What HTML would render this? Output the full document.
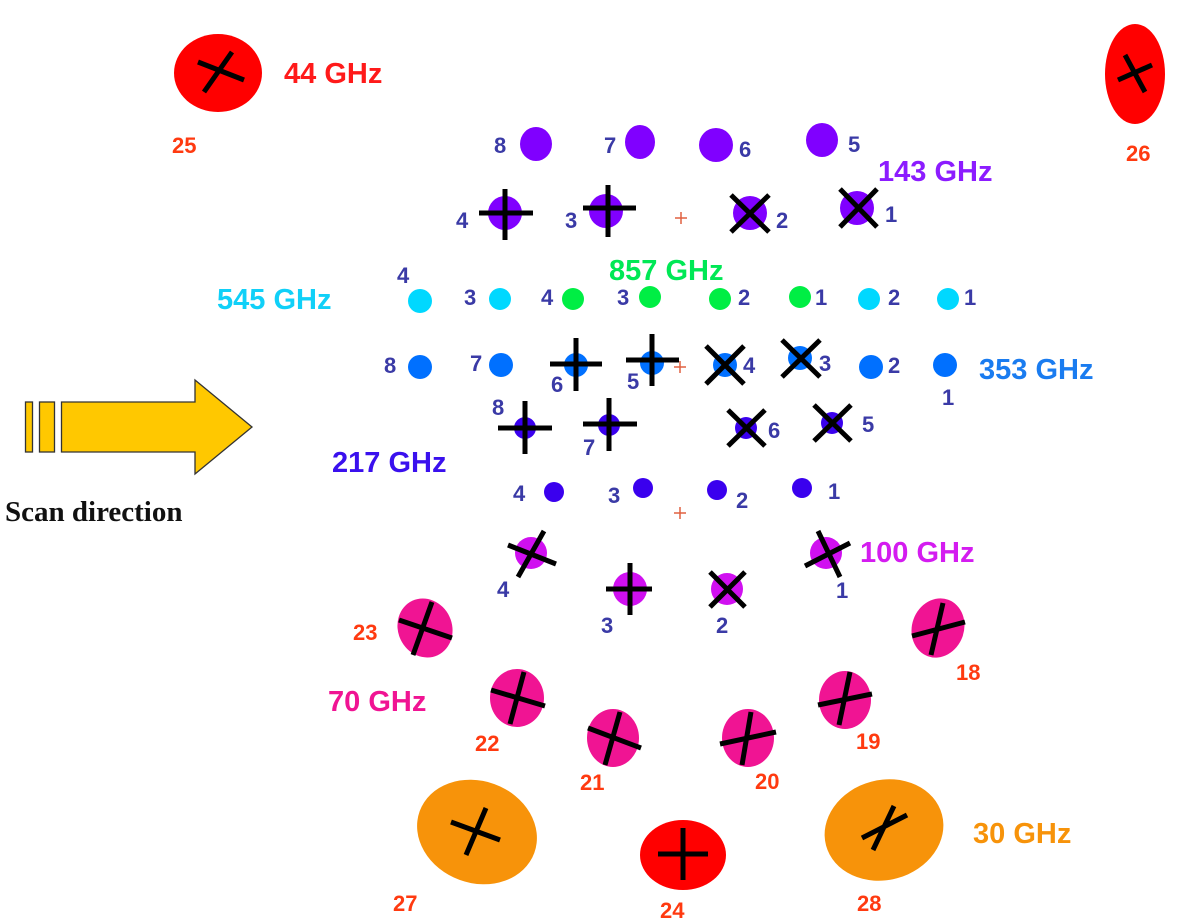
<!DOCTYPE html>
<html><head><meta charset="utf-8"><style>
html,body{margin:0;padding:0;background:#fff;}
svg{display:block}
text{font-family:"Liberation Sans",sans-serif;font-weight:bold;}
.n{fill:#3a3aa6;font-size:22px;}
.r{fill:#ff3a10;font-size:22px;}
.k path{stroke:#000;stroke-width:5;fill:none;}
</style></head><body>
<svg width="1200" height="923" viewBox="0 0 1200 923" xmlns="http://www.w3.org/2000/svg">
<rect width="1200" height="923" fill="#fff"/>
<ellipse cx="218" cy="73" rx="44" ry="39" fill="#ff0000"/>
<ellipse cx="1135" cy="74" rx="30" ry="50" fill="#ff0000"/>
<ellipse cx="477" cy="832" rx="61" ry="51" fill="#f7930a" transform="rotate(20 477 832)"/>
<ellipse cx="884" cy="830" rx="60" ry="50" fill="#f7930a" transform="rotate(-15 884 830)"/>
<ellipse cx="683" cy="855" rx="43" ry="35" fill="#ff0000"/>
<g fill="#f01493">
<ellipse cx="425" cy="628" rx="27" ry="30" transform="rotate(-25 425 628)"/>
<ellipse cx="517" cy="698" rx="27" ry="29"/>
<ellipse cx="613" cy="738" rx="26" ry="29"/>
<ellipse cx="748" cy="738" rx="26" ry="29"/>
<ellipse cx="845" cy="700" rx="26" ry="29"/>
<ellipse cx="938" cy="628" rx="26" ry="30" transform="rotate(20 938 628)"/>
</g>
<g fill="#d010f0">
<circle cx="531" cy="553" r="16"/><circle cx="630" cy="589" r="17"/><circle cx="727" cy="589" r="16"/><circle cx="826" cy="553" r="16"/>
</g>
<g fill="#8000ff">
<ellipse cx="536" cy="144" rx="16" ry="17"/><ellipse cx="640" cy="142" rx="15" ry="17"/><ellipse cx="716" cy="145" rx="17" ry="17"/><ellipse cx="822" cy="140" rx="16" ry="17"/>
<circle cx="505" cy="213" r="17"/><circle cx="606" cy="211" r="17"/><circle cx="750" cy="213" r="17"/><circle cx="857" cy="208" r="17"/>
</g>
<g fill="#00d8ff"><circle cx="420" cy="301" r="12"/><circle cx="500" cy="299" r="11"/><circle cx="869" cy="299" r="11"/><circle cx="948" cy="299" r="11"/></g>
<g fill="#00ee44"><circle cx="573" cy="299" r="11"/><circle cx="650" cy="297" r="11"/><circle cx="720" cy="299" r="11"/><circle cx="800" cy="297" r="11"/></g>
<g fill="#0070ff"><circle cx="420" cy="367" r="12"/><circle cx="501" cy="365" r="12"/><circle cx="576" cy="365" r="12"/><circle cx="652" cy="363" r="12"/><circle cx="725" cy="365" r="12"/><circle cx="800" cy="358" r="12"/><circle cx="871" cy="367" r="12"/><circle cx="945" cy="365" r="12"/></g>
<g fill="#3a00ee"><circle cx="525" cy="428" r="11"/><circle cx="609" cy="425" r="11"/><circle cx="746" cy="428" r="11"/><circle cx="832" cy="423" r="11"/>
<circle cx="554" cy="492" r="10"/><circle cx="643" cy="488" r="10"/><circle cx="717" cy="490" r="10"/><circle cx="802" cy="488" r="10"/></g>
<g class="k">
<path d="M204 92 L232 52 M198 62 L244 80"/>
<path d="M1125 55 L1145 92 M1118 80 L1152 65"/>
<path d="M466 855 L486 808 M451 822 L500 840"/>
<path d="M873 850 L894 806 M862 838 L907 815"/>
<path d="M683 828 V880 M658 854 H708"/>
<path d="M413 655 L432 602 M399 620 L452 638"/>
<path d="M510 724 L524 672 M491 690 L545 706"/>
<path d="M605 765 L620 712 M588 728 L641 748"/>
<path d="M742 765 L751 712 M720 744 L776 732"/>
<path d="M839 725 L850 672 M818 705 L872 694"/>
<path d="M931 655 L943 603 M912 636 L965 622"/>
<path d="M518 577 L544 531 M508 545 L556 564"/>
<path d="M630 563 V615 M606 589 H652"/>
<path d="M710 572 L745 607 M710 607 L745 572"/>
<path d="M818 531 L840 577 M805 566 L850 543"/>
<path d="M505 189 V240 M479 213 H533"/>
<path d="M608 185 V237 M583 208 H636"/>
<path d="M731 195 L769 232 M731 232 L769 195"/>
<path d="M840 189 L877 227 M840 227 L877 189"/>
<path d="M576 338 V391 M550 364 H602"/>
<path d="M652 334 V386 M626 360 H679"/>
<path d="M706 346 L744 384 M706 384 L744 346"/>
<path d="M782 340 L820 377 M782 377 L820 340"/>
<path d="M525 401 V454 M498 428 H552"/>
<path d="M609 398 V451 M583 424 H637"/>
<path d="M728 410 L765 446 M728 446 L765 410"/>
<path d="M814 405 L851 441 M814 441 L851 405"/>
</g>
<g stroke="#e06040" stroke-width="1.5"><path d="M675 218 H687 M681 212 V224"/><path d="M674 367 H686 M680 361 V373"/><path d="M674 513 H686 M680 507 V519"/></g>
<g stroke="#333" stroke-width="1.3" fill="#ffc800">
<rect x="25.5" y="402" width="7" height="50"/>
<rect x="39.5" y="402" width="15" height="50"/>
<path d="M61.5 402 H195 V380 L252 427 L195 474 V452 H61.5 Z"/>
</g>
<text x="5" y="521" style="font-family:'Liberation Serif',serif;font-size:29px;fill:#111">Scan direction</text>
<text x="284" y="83" style="fill:#ff1a1a;font-size:29px">44 GHz</text>
<text x="878" y="181" style="fill:#8c1cff;font-size:29px">143 GHz</text>
<text x="609" y="280" style="fill:#00e855;font-size:29px">857 GHz</text>
<text x="217" y="309" style="fill:#10d0f8;font-size:29px">545 GHz</text>
<text x="979" y="379" style="fill:#1a7cf0;font-size:29px">353 GHz</text>
<text x="332" y="472" style="fill:#3a10ee;font-size:29px">217 GHz</text>
<text x="860" y="562" style="fill:#d41cf0;font-size:29px">100 GHz</text>
<text x="328" y="711" style="fill:#f01493;font-size:29px">70 GHz</text>
<text x="973" y="843" style="fill:#f7930a;font-size:29px">30 GHz</text>
<text class="r" x="172" y="153">25</text>
<text class="r" x="1126" y="161">26</text>
<text class="r" x="353" y="640">23</text>
<text class="r" x="956" y="680">18</text>
<text class="r" x="475" y="751">22</text>
<text class="r" x="856" y="749">19</text>
<text class="r" x="580" y="790">21</text>
<text class="r" x="755" y="789">20</text>
<text class="r" x="393" y="911">27</text>
<text class="r" x="660" y="918">24</text>
<text class="r" x="857" y="911">28</text>
<g class="n">
<text x="494" y="153">8</text><text x="604" y="153">7</text><text x="739" y="157">6</text><text x="848" y="152">5</text>
<text x="456" y="228">4</text><text x="565" y="228">3</text><text x="776" y="228">2</text><text x="885" y="222">1</text>
<text x="397" y="283">4</text><text x="464" y="305">3</text><text x="541" y="305">4</text><text x="617" y="305">3</text><text x="738" y="305">2</text><text x="815" y="305">1</text><text x="888" y="305">2</text><text x="964" y="305">1</text>
<text x="384" y="373">8</text><text x="470" y="371">7</text><text x="551" y="392">6</text><text x="627" y="389">5</text><text x="743" y="373">4</text><text x="819" y="371">3</text><text x="888" y="373">2</text><text x="942" y="405">1</text>
<text x="492" y="415">8</text><text x="583" y="455">7</text><text x="768" y="438">6</text><text x="862" y="432">5</text>
<text x="513" y="501">4</text><text x="608" y="503">3</text><text x="736" y="508">2</text><text x="828" y="499">1</text>
<text x="497" y="597">4</text><text x="601" y="633">3</text><text x="716" y="633">2</text><text x="836" y="598">1</text>
</g>
</svg>
</body></html>
